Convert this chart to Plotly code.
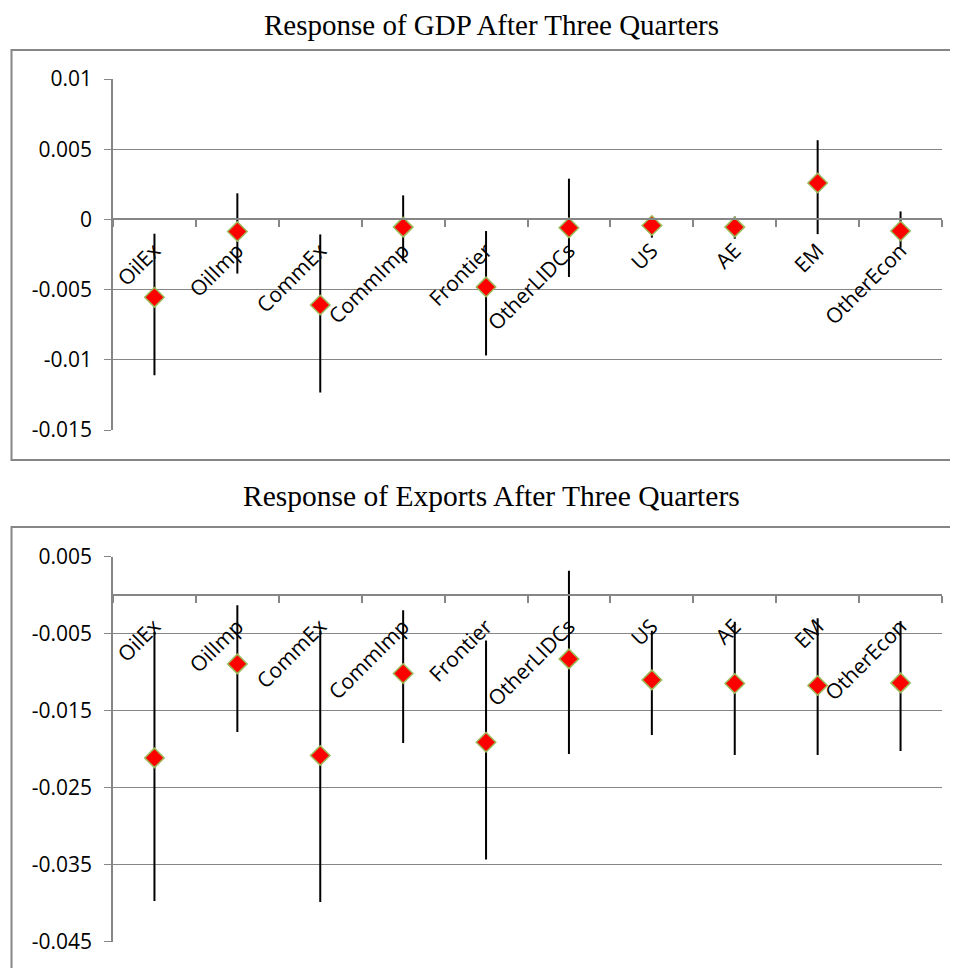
import plotly.graph_objects as go

categories = ["OilEx", "OilImp", "CommEx", "CommImp", "Frontier",
              "OtherLIDCs", "US", "AE", "EM", "OtherEcon"]

# Response of GDP after three quarters
gdp_point = [-0.00555, -0.00086, -0.0061, -0.00055, -0.00481,
             -0.00060, -0.00043, -0.00055, 0.00259, -0.00083]
gdp_upper = [-0.00102, 0.00186, -0.00107, 0.00171, -0.00083,
             0.0029, 0.0002, 0.0002, 0.00564, 0.00057]
gdp_lower = [-0.0111, -0.00386, -0.01233, -0.00298, -0.00969,
             -0.0041, -0.0013, -0.00138, -0.00105, -0.00202]

# Response of exports after three quarters
exp_point = [-0.02113, -0.00892, -0.02082, -0.01017, -0.01909,
             -0.00827, -0.011, -0.01147, -0.01173, -0.01139]
exp_upper = [-0.00477, -0.0013, -0.00463, -0.00195, -0.00589,
             0.00316, -0.00463, -0.00346, -0.00299, -0.00334]
exp_lower = [-0.0397, -0.01775, -0.03983, -0.01918, -0.03433,
             -0.02061, -0.01814, -0.02074, -0.02074, -0.02022]

gdp_ticks = [0.01, 0.005, 0, -0.005, -0.01, -0.015]
gdp_ticktext = ["0.01", "0.005", "0", "-0.005", "-0.01", "-0.015"]
exp_ticks = [0.005, -0.005, -0.015, -0.025, -0.035, -0.045]
exp_ticktext = ["0.005", "-0.005", "-0.015", "-0.025", "-0.035", "-0.045"]

title_top = "Response of GDP After Three Quarters"
title_bottom = "Response of Exports After Three Quarters"

OFF = 8  # default page body margin
W, H = 958 - OFF, 968 - OFF
GRAY = "#868686"
TICKFONT = dict(family="Open Sans", size=21, color="black")


def px_x(p):
    return (p - OFF) / W


def px_y(p):
    return 1 - (p - OFF) / H


def trace(point, upper, lower, xa, ya):
    return go.Scatter(
        x=categories, y=point, mode="markers", xaxis=xa, yaxis=ya,
        showlegend=False,
        marker=dict(symbol="diamond", size=15, color="#FF0000",
                    line=dict(color="#9BBB59", width=1.5)),
        error_y=dict(type="data", symmetric=False,
                     array=[u - p for u, p in zip(upper, point)],
                     arrayminus=[p - l for p, l in zip(point, lower)],
                     color="black", thickness=2, width=0),
    )


fig = go.Figure()
fig.add_trace(trace(gdp_point, gdp_upper, gdp_lower, "x", "y"))
fig.add_trace(trace(exp_point, exp_upper, exp_lower, "x2", "y2"))

xdom = [px_x(113), px_x(942)]
top_dom = [px_y(430), px_y(79)]
bot_dom = [px_y(941.7), px_y(556.7)]
top_range = [-0.015, 0.01]
bot_range = [-0.045, 0.005]


def zero_pos(dom, rng):
    return dom[0] + (0 - rng[0]) / (rng[1] - rng[0]) * (dom[1] - dom[0])


xcommon = dict(domain=xdom, type="category", range=[-0.5, 9.5],
               tickson="boundaries", ticks="outside", ticklen=7,
               tickcolor=GRAY, tickwidth=1.5, showline=True,
               linecolor=GRAY, linewidth=1.5, showgrid=False,
               tickangle=-45, tickfont=TICKFONT, ticklabelstandoff=10,
               zeroline=False, automargin=False)
ycommon = dict(showline=True, linecolor=GRAY, linewidth=1.5,
               showgrid=True, gridcolor=GRAY, gridwidth=1,
               ticks="outside", ticklen=7, tickcolor=GRAY, tickwidth=1,
               tickfont=TICKFONT, zeroline=False, ticklabelstandoff=8,
               automargin=False)

fig.update_layout(
    width=W, height=H,
    margin=dict(l=0, r=0, t=0, b=0, autoexpand=False),
    paper_bgcolor="white", plot_bgcolor="white",
    xaxis=dict(**xcommon, anchor="free",
               position=zero_pos(top_dom, top_range)),
    yaxis=dict(**ycommon, domain=top_dom, range=top_range, anchor="x",
               tickvals=gdp_ticks, ticktext=gdp_ticktext),
    xaxis2=dict(**xcommon, anchor="free",
                position=zero_pos(bot_dom, bot_range)),
    yaxis2=dict(**ycommon, domain=bot_dom, range=bot_range, anchor="x2",
                tickvals=exp_ticks, ticktext=exp_ticktext),
    annotations=[
        dict(text=title_top, xref="paper", yref="paper",
             x=px_x(491), y=1, showarrow=False, borderpad=0,
             font=dict(family="Liberation Serif", size=29, color="black"),
             xanchor="center", yanchor="top"),
        dict(text=title_bottom, xref="paper", yref="paper",
             x=px_x(491), y=px_y(496), showarrow=False,
             font=dict(family="Liberation Serif", size=29.5, color="black"),
             xanchor="center", yanchor="middle"),
    ],
    shapes=[
        dict(type="rect", xref="paper", yref="paper",
             x0=px_x(11.5), x1=1.02, y0=px_y(460), y1=px_y(50),
             line=dict(color=GRAY, width=2), layer="below"),
        dict(type="rect", xref="paper", yref="paper",
             x0=px_x(11.5), x1=1.02, y0=-0.05, y1=px_y(527),
             line=dict(color=GRAY, width=2), layer="below"),
    ],
)

fig.write_html("out.html")
